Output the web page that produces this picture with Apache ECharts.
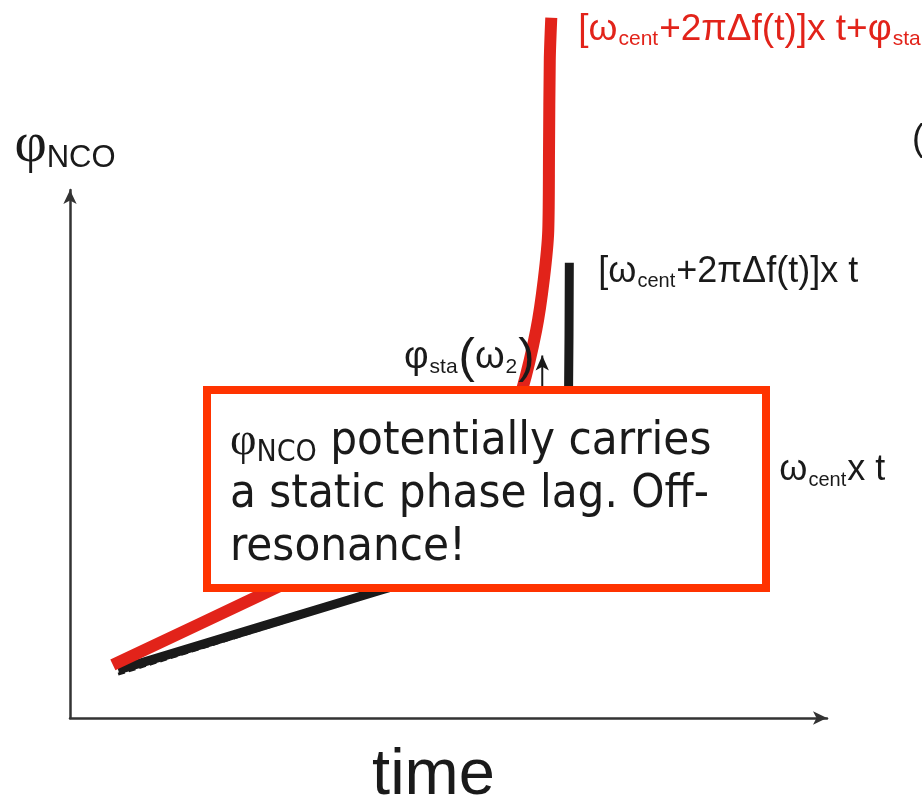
<!DOCTYPE html>
<html><head><meta charset="utf-8">
<script src="https://cdn.jsdelivr.net/npm/echarts@6/dist/echarts.min.js"></script>
<style>html,body{margin:0;padding:0;background:#fff}#c{width:922px;height:801px}</style>
</head><body><div id="c"></div>
<script>
// NCO phase including static phase lag (red)
const redX = [5.7, 26.2, 37.2, 46.5, 53.2, 57.8, 60.1, 62.0, 63.0, 63.6, 63.7, 63.8, 64.0];
const redY = [7.5, 17.8, 23.4, 28.7, 33.6, 39.3, 46.3, 54.8, 61.9, 68.9, 80.2, 92.9, 98.9];
// NCO phase without lag (black)
const blackX = [6.4, 40.2, 53.2, 61.2, 65.2, 66.1, 66.3, 66.4];
const blackY = [6.8, 17.7, 22.0, 26.6, 32.2, 39.3, 46.3, 64.3];
// centre frequency phase ramp (dashed)
const centX = [6.4, 93.0];
const centY = [6.2, 35.0];
// static phase lag arrow
const lagX = [62.8, 62.8];
const lagY = [42.1, 51.2];

const redLabel = '{m|[ω}{s|cent}{m|+2πΔf(t)]x t+φ}{s|sta}';
const blackLabel = '{m|[ω}{s|cent}{m|+2πΔf(t)]x t}';
const centLabel = '{m|ω}{s|cent}{m|x t}';
const lagLabel = '{m|φ}{s|sta}{p|(}{m|ω}{s|2}{p|)}';
const yName = '{p|φ}{n|NCO}';
const xName = 'time';
const boxLines = ['{p|φ}{n|NCO}{t| potentially carries}', '{t|a static phase lag. Off-}', '{t|resonance!}'];

const zip = (xs, ys) => xs.map((x, i) => [x, ys[i]]);
const ink = '#1a1a1a';
const redC = '#e2231a';
const boxC = '#ff3300';
const FF = '"Liberation Sans", Arial, sans-serif';
function rich(color, size) {
  size = size || 36;
  return {
    m: {fontSize: size, fontFamily: FF, color: color, lineHeight: 40},
    s: {fontSize: Math.round(size * 0.56), fontFamily: FF, color: color, lineHeight: 40, verticalAlign: 'bottom', padding: [0, 1, 0, 1]},
    p: {fontSize: Math.round(size * 1.3), fontFamily: FF, color: color, lineHeight: 40}
  };
}

const chart = echarts.init(document.getElementById('c'));
const axisHidden = {show: false, type: 'value', min: 0, max: 100};
const blank = {axisTick: {show: false}, axisLabel: {show: false}, splitLine: {show: false}};

const lagData = zip(lagX, lagY).map((p, i) => i === lagX.length - 1
  ? {value: p, symbol: 'arrow', symbolSize: [10, 15], label: {show: true, position: 'left', distance: 1, offset: [0, -5], formatter: lagLabel, rich: rich(ink, 38)}}
  : {value: p, symbol: 'none'});

const boxFont = '"DejaVu Sans Condensed", Tahoma, sans-serif';

chart.setOption({
  animation: false,
  backgroundColor: '#fff',
  grid: [
    {left: 70, right: 95, top: 190, bottom: 83, outerBoundsMode: 'none', containLabel: false},
    {left: 70, right: 100, top: 10, bottom: 83, outerBoundsMode: 'none', containLabel: false}
  ],
  xAxis: [
    Object.assign({gridIndex: 0, type: 'value', min: 0, max: 100,
      axisLine: {show: true, symbol: ['none', 'arrow'], symbolSize: [10, 14], lineStyle: {color: '#333', width: 2.5}},
      name: xName, nameLocation: 'middle', nameGap: 26,
      nameTextStyle: {fontSize: 65, fontFamily: FF, color: ink, padding: [0, 30, 0, 0]}}, blank),
    Object.assign({gridIndex: 1}, axisHidden)
  ],
  yAxis: [
    Object.assign({gridIndex: 0, type: 'value', min: 0, max: 100,
      axisLine: {show: true, symbol: ['none', 'arrow'], symbolSize: [10, 14], lineStyle: {color: '#333', width: 2.5}},
      name: yName, nameLocation: 'end', nameGap: 16,
      nameTextStyle: {padding: [0, 10, 0, 0], rich: {
        p: {fontSize: 56, fontFamily: '"Liberation Serif", serif', color: ink, lineHeight: 56},
        n: {fontSize: 31, fontFamily: FF, color: ink, verticalAlign: 'bottom', lineHeight: 50}
      }}}, blank),
    Object.assign({gridIndex: 1}, axisHidden)
  ],
  series: [
    {name: 'cent', type: 'line', xAxisIndex: 1, yAxisIndex: 1, z: 2, symbol: 'none',
     data: zip(centX, centY), lineStyle: {color: ink, width: 3, type: [7, 4]},
     endLabel: {show: true, distance: 0, offset: [10, 0], formatter: centLabel, rich: rich(ink)}},
    {name: 'black', type: 'line', xAxisIndex: 1, yAxisIndex: 1, z: 3, symbol: 'none', smooth: 0.3,
     data: zip(blackX, blackY), lineStyle: {color: ink, width: 9},
     endLabel: {show: true, distance: 0, offset: [29, 9], formatter: blackLabel, rich: rich(ink)}},
    {name: 'red', type: 'line', xAxisIndex: 1, yAxisIndex: 1, z: 4, symbol: 'none', smooth: 0.3,
     data: zip(redX, redY), lineStyle: {color: redC, width: 12},
     endLabel: {show: true, distance: 0, offset: [27, 12], formatter: redLabel, rich: rich(redC, 37)}},
    {name: 'lag', type: 'line', xAxisIndex: 1, yAxisIndex: 1, z: 5, showSymbol: true,
     data: lagData, itemStyle: {color: ink}, lineStyle: {color: ink, width: 2}}
  ],
  graphic: {elements: [
    {type: 'rect', z: 100, shape: {x: 207, y: 390, width: 559, height: 198},
     style: {fill: '#fff', stroke: boxC, lineWidth: 8}},
    {type: 'text', z: 101, left: 230, top: 418,
     style: {text: boxLines.join('\n'), fill: ink, rich: {
       t: {fontSize: 47, fontFamily: boxFont, lineHeight: 53, fill: ink},
       p: {fontSize: 46, fontFamily: '"Liberation Serif", serif', lineHeight: 53, fill: ink},
       n: {fontSize: 30, fontFamily: boxFont, lineHeight: 53, verticalAlign: 'bottom', fill: ink}
     }}},
    {type: 'text', z: 101, left: 912, top: 122, style: {text: '(', fontSize: 36, fontFamily: FF, fill: ink}}
  ]}
});
</script></body></html>
